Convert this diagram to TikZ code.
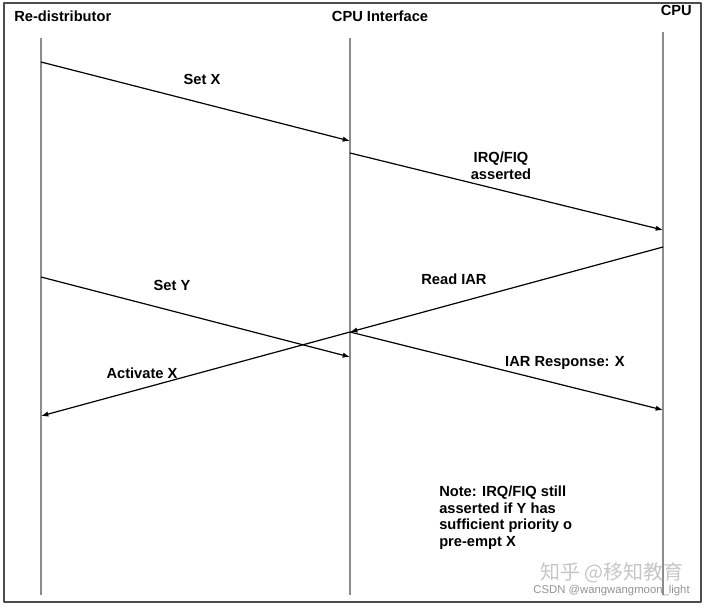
\documentclass[tikz,border=0pt]{standalone}
\usepackage{fontspec}
\setmainfont{Liberation Sans}
\newfontfamily\cjk{Noto Sans CJK SC}
\usetikzlibrary{arrows.meta}
\usetikzlibrary{positioning}
\definecolor{lifegray}{rgb}{0.55,0.55,0.55}
\definecolor{framegray}{rgb}{0.3,0.3,0.3}

\begin{document}
\begin{tikzpicture}[
		% one unit = one pixel of the original, y pointing down
		x=0.75pt, y=-0.75pt,
		line join=round, >={Latex[length=5.5pt,width=4pt]},
		every node/.style={font=\fontsize{11}{12.4}\selectfont\bfseries, inner sep=0pt},
		lifeline/.style={lifegray, line width=1pt},
		msg/.style={->, line width=0.9pt}
	]

	% Parameters
	\def\xR{41}
	\def\xI{350}
	\def\xC{663}
	\def\yEnd{595}

	\useasboundingbox (0,0) rectangle (705,607);
	\draw[framegray, line width=1.2pt] (4,3) rectangle (701,602);

	%-------------------
	% Participants
	%-------------------
	\node[anchor=west] (redist) at (14,16) {Re-distributor};
	\node (cpuif) at (380,16) {CPU Interface};
	\node[anchor=east] (cpu) at (692,10) {CPU};

	%-------------------
	% Lifelines
	%-------------------
	\coordinate (rTop) at (\xR,38);
	\coordinate (iTop) at (\xI,38);
	\coordinate (cTop) at (\xC,32);
	\foreach \p/\x in {r/\xR,i/\xI,c/\xC}{
			\coordinate (\p Bot) at (\x,\yEnd);
			\draw[lifeline] (\p Top) -- (\p Bot);
		}

	%-------------------
	% Message end points
	%-------------------
	\coordinate (r1) at (\xR,62);
	\coordinate (i1) at (\xI,141);
	\coordinate (i2) at (\xI,153);
	\coordinate (c2) at (\xC,230);
	\coordinate (c3) at (\xC,247);
	\coordinate (i3) at (\xI,332);
	\coordinate (c4) at (\xC,410);
	\coordinate (r5) at (\xR,277);
	\coordinate (i5) at (\xI,357);
	\coordinate (r6) at (\xR,416);

	%-------------------
	% Messages
	%-------------------
	\draw[msg] (r1) -- (i1);
	\draw[msg] (i2) -- (c2);
	\draw[msg] (c3) -- (i3);
	\draw[msg] (i3) -- (c4);
	\draw[msg] (r5) -- (i5);
	\draw[msg] (i3) -- (r6);

	% labels
	\node (setx) at (202,79) {Set X};
	\node[align=center] (irq) at (501,166) {IRQ/FIQ\\asserted};
	\node (readiar) at (454,279) {Read IAR};
	\node (iarresp) at (565,363) {IAR Response: X};
	\node (sety) at (172,285) {Set Y};
	\node (actx) at (142,373) {Activate X};

	\node[anchor=north west, align=left] (note) at (439,486)
	{Note: IRQ/FIQ still\\asserted if Y has\\sufficient priority o\\pre-empt X};

	%-------------------
	% Watermarks
	%-------------------
	\node[anchor=east, gray!45, font=\cjk\fontsize{15}{15}\selectfont] (wmzh) at (684,573) {知乎 @移知教育};
	\node[anchor=east, gray!85, font=\fontsize{8.5}{9}\selectfont] (wmcsdn) at (690,591) {CSDN @wangwangmoon\_light};

\end{tikzpicture}
\end{document}
